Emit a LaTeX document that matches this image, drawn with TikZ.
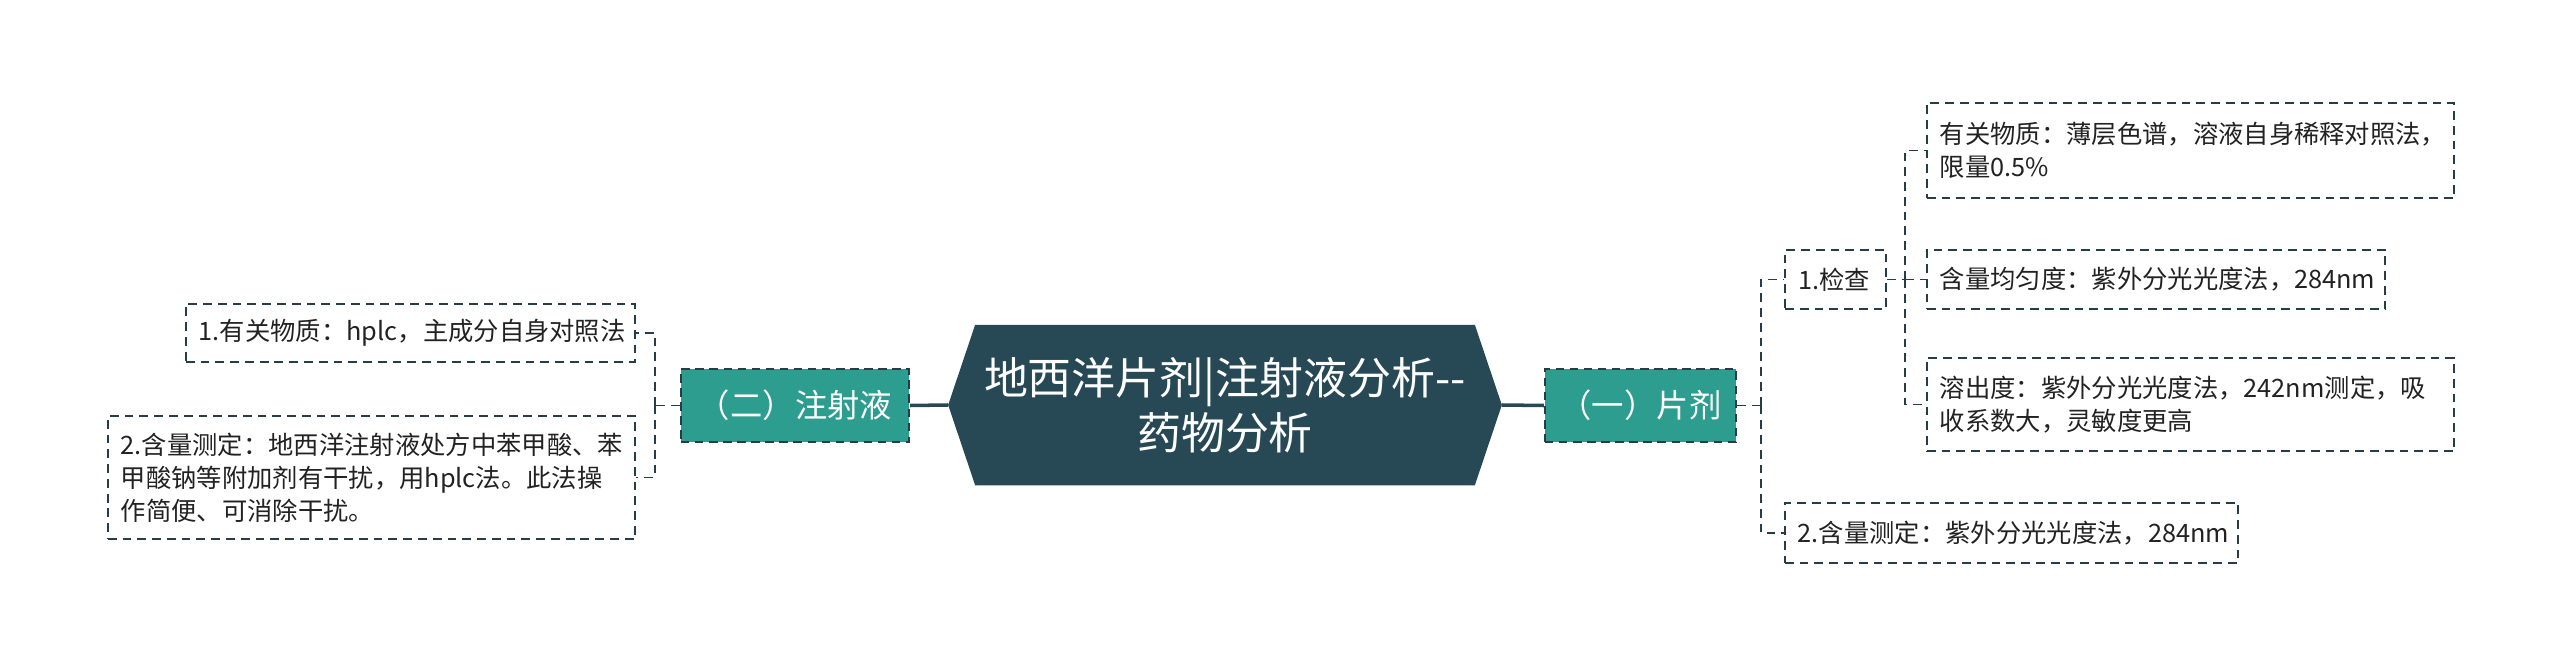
\documentclass[tikz,border=0pt]{standalone}
\usepackage{fontspec}
\setmainfont{Noto Sans CJK SC}
\usepackage{xcolor}
\usetikzlibrary{positioning, calc, backgrounds}

\definecolor{rootblue}{RGB}{39,73,86}
\definecolor{branchteal}{RGB}{44,157,142}
\definecolor{linkdark}{RGB}{38,60,70}
\definecolor{leaftext}{RGB}{34,34,34}

\tikzset{
	root/.style={text=white, font=\fontsize{12.5}{15.6}\selectfont, align=center, minimum width=4.98cm, minimum height=1.59cm, inner sep=0pt},
	branch/.style={fill=branchteal, draw=linkdark, line width=0.6pt, dash pattern=on 2.4pt off 1.6pt, text=white, font=\fontsize{9.2}{11}\selectfont, minimum height=0.73cm, inner sep=0pt},
	leaf/.style={draw=linkdark, line width=0.5pt, dash pattern=on 2.5pt off 1.7pt, text=leaftext, font=\fontsize{7.2}{9.4}\selectfont, align=left, inner xsep=0.13cm, inner ysep=0pt},
	link/.style={draw=linkdark, line width=0.5pt, dash pattern=on 2.5pt off 1.7pt},
	trunk/.style={draw=rootblue, line width=1pt}
}

\begin{document}
\begin{tikzpicture}[x=0.01cm, y=-0.01cm]
	% Frame of the whole picture
	\useasboundingbox (0,0) rectangle (2560,670);

	% Define the nodes (main topic and branches)
	\node[root] (root) at (1225,405) {地西洋片剂|注射液分析-{}-\\药物分析};
	\node[branch, minimum width=2.28cm] (inj) at (795,405.5) {（二）注射液};
	\node[branch, minimum width=1.91cm] (tab) at (1640.5,405.5) {（一）片剂};

	% Leaves of the injection branch
	\node[leaf, text width=4.23cm, minimum height=0.58cm] (injsub) at (410.5,333) {1.有关物质：hplc，主成分自身对照法};
	\node[leaf, text width=5.01cm, minimum height=1.23cm] (injassay) at (371.5,477.5) {2.含量测定：地西洋注射液处方中苯甲酸、苯\\甲酸钠等附加剂有干扰，用hplc法。此法操\\作简便、可消除干扰。};

	% Leaves of the tablet branch
	\node[leaf, text width=0.75cm, minimum height=0.59cm] (check) at (1835.5,279.5) {1.检查};
	\node[leaf, text width=4.27cm, minimum height=0.60cm] (tabassay) at (2011.5,533) {2.含量测定：紫外分光光度法，284nm};
	\node[leaf, text width=5.01cm, minimum height=0.95cm] (related) at (2190.5,150.5) {有关物质：薄层色谱，溶液自身稀释对照法，\\限量0.5\%};
	\node[leaf, text width=4.32cm, minimum height=0.59cm] (uniform) at (2156,279.5) {含量均匀度：紫外分光光度法，284nm};
	\node[leaf, text width=5.01cm, minimum height=0.93cm] (dissolve) at (2190.5,404.5) {溶出度：紫外分光光度法，242nm测定，吸\\收系数大，灵敏度更高};

	% Shape behind the main topic
	\begin{scope}[on background layer]
		\fill[rootblue] (root.north west) -- (root.north east) -- ($(root.east)+(27,0)$) -- (root.south east) -- (root.south west) -- ($(root.west)+(-27,0)$) -- cycle;
	\end{scope}

	% Define the connections
	\coordinate (rootL) at ($(root.west)+(-27,0)$);
	\coordinate (rootR) at ($(root.east)+(27,0)$);
	\draw[trunk] (rootL) -- (inj.east);
	\draw[trunk] (rootR) -- (tab.west);

	\coordinate (injfork) at ($(inj.west)+(-25,0)$);
	\draw[link] (inj.west) -- (injfork);
	\draw[link] (injfork) |- (injsub.east);
	\draw[link] (injfork) |- (injassay.east);

	\coordinate (tabfork) at ($(tab.east)+(24,0)$);
	\draw[link] (tab.east) -- (tabfork);
	\draw[link] (tabfork) |- (check.west);
	\draw[link] (tabfork) |- (tabassay.west);

	\coordinate (checkfork) at ($(check.east)+(18,0)$);
	\draw[link] (check.east) -- (checkfork);
	\draw[link] (checkfork) |- (related.west);
	\draw[link] (checkfork) |- (uniform.west);
	\draw[link] (checkfork) |- (dissolve.west);
\end{tikzpicture}
\end{document}
